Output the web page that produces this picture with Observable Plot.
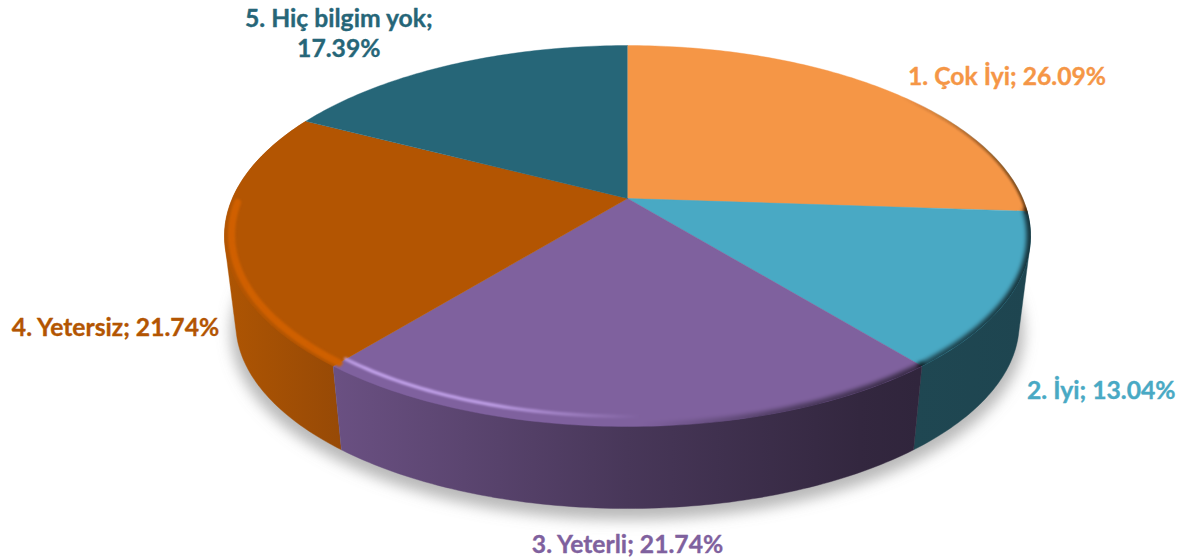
<!DOCTYPE html>
<html><head><meta charset="utf-8">
<style>html,body{margin:0;padding:0;background:#fff}svg{display:block}</style>
<script src="https://cdn.jsdelivr.net/npm/d3@7"></script>
<script src="https://cdn.jsdelivr.net/npm/@observablehq/plot@0.6"></script>
</head><body><div id="c"></div>
<script>
const categories = ["1. Çok İyi", "2. İyi", "3. Yeterli", "4. Yetersiz", "5. Hiç bilgim yok"];
const values = [26.09, 13.04, 21.74, 21.74, 17.39];
const colors = ["#F59646", "#49A9C4", "#7F619E", "#B35502", "#266678"];

// layout
const W = 1180, H = 560, cx = 627, cy = 198, Ax = 395.1, Ay = 183.1, k = 0.197;
const depth = 88.4 / Ay, bottomScale = 0.972;
const labelOffsets = [[125, -13], [88, 98], [0, 117], [-109, 89], [-113, -32]];
const labelBreak = [false, false, false, false, true];

const pie = d3.pie().sort(null).value(d => d)(values);

function project(a, r = 1, bottom = false) {
  const X = r * Math.sin(a), Y = r * Math.cos(a), w = 1 + k * Y;
  const s = bottom ? bottomScale : 1;
  return {x: s * X / w, y: s * Y / w - (bottom ? depth : 0)};
}
function arc(a0, a1, r = 1, bottom = false) {
  const n = Math.max(2, Math.ceil(Math.abs(a1 - a0) * 60));
  return d3.range(n + 1).map(i => project(a0 + (a1 - a0) * i / n, r, bottom));
}
const wedge = s => [{x: 0, y: 0}, ...arc(s.startAngle, s.endAngle)];
// the side wall: hull of the top and bottom rims (its upper part lies under the top face)
const wall = s => d3.polygonHull(
  [...arc(s.startAngle, s.endAngle), ...arc(s.startAngle, s.endAngle, 1, true)].map(p => [p.x, p.y])
).map(([x, y]) => ({x, y}));
const fullDisc = (sc) => arc(0, 2 * Math.PI, sc, true);

const effect = (filterId, clipped) => ({render: (i, s, v, d, c, next) => {
  const g = next(i, s, v, d, c);
  g.setAttribute("filter", `url(#${filterId})`);
  if (!clipped) return g;
  const outer = document.createElementNS("http://www.w3.org/2000/svg", "g");
  outer.setAttribute("clip-path", "url(#topClip)");
  outer.appendChild(g);
  return outer;
}});

function stops(id, x1, x2, list) {
  return `<linearGradient id="${id}" gradientUnits="userSpaceOnUse" x1="${x1}" x2="${x2}" y1="0" y2="0">` +
    list.map(([o, c, op = 1]) => `<stop offset="${o}" stop-color="${c}" stop-opacity="${op}"/>`).join("") +
    `</linearGradient>`;
}
const defsMark = () => {
  const g = document.createElementNS("http://www.w3.org/2000/svg", "g");
  const region = `filterUnits="userSpaceOnUse" x="0" y="0" width="${W}" height="${H}"`;
  const topPath = arc(0, 2 * Math.PI, 1.002).map(p => `${cx + Ax * p.x},${cy - Ay * p.y}`).join(" ");
  g.innerHTML = `<defs>
    <clipPath id="topClip"><polygon points="${topPath}"/></clipPath>
    <filter id="b1" ${region}><feGaussianBlur stdDeviation="1.2"/></filter>
    <filter id="b2" ${region}><feGaussianBlur stdDeviation="2.2"/></filter>
    <filter id="b6" ${region}><feGaussianBlur stdDeviation="7"/></filter>
    ${stops("sideOrange", 224, 345, [[0, "#AE5503"], [1, "#964906"]])}
    ${stops("sidePurple", 335, 918, [[0, "#6A5082"], [0.5, "#483759"], [0.9, "#33273F"], [1, "#30253C"]])}
    ${stops("sideBlue", 912, 1030, [[0, "#1F4752"], [1, "#1E4550"]])}
    ${stops("hiPurple", 335, 640, [[0, "#C5A5EE", 0.7], [0.1, "#C5A5EE", 0.95], [0.5, "#C5A5EE", 0.9], [1, "#C5A5EE", 0]])}
    ${stops("hiOrange", 224, 345, [[0, "#D06005", 1], [1, "#D06005", 0.95]])}
    ${stops("dark", 640, 1030, [[0, "#000", 0], [0.4, "#000", 0.4], [0.8, "#000", 0.6], [1, "#000", 0.7]])}
    ${stops("darkTop", 900, 1030, [[0, "#3a1f00", 0], [1, "#3a1f00", 0.7]])}
  </defs>`;
  return g;
};

const sideFill = {1: "url(#sideBlue)", 2: "url(#sidePurple)", 3: "url(#sideOrange)"};
const poly = (data, fill) => Plot.line(data, {x: "x", y: "y", fill, stroke: fill, strokeWidth: 0.4, curve: "linear"});
const stroke = (data, color, width, id) => Plot.line(data, {x: "x", y: "y", stroke: color, strokeWidth: width, curve: "linear", fill: "none", ...effect(id, true)});

const marks = [
  defsMark,
  // soft shadow under the pie
  Plot.line(fullDisc(1.012).map(p => ({x: p.x, y: p.y - 8 / Ay})), {x: "x", y: "y", fill: "#8a8a8a", fillOpacity: 0.6, stroke: "none", ...effect("b6", false)}),
  // visible side walls
  ...[3, 1, 2].map(i => poly(wall(pie[i]), sideFill[i])),
  // top faces
  ...pie.map((s, i) => poly(wedge(s), colors[i])),
  // bevel: light on the left front, shade on the right
  stroke(arc(pie[3].startAngle, pie[3].endAngle - 0.5, 0.983), "url(#hiOrange)", 7, "b1"),
  stroke(arc(pie[2].startAngle, pie[2].endAngle, 0.964), "url(#hiPurple)", 3.4, "b1"),
  stroke(arc(pie[2].startAngle, pie[2].endAngle, 1), "url(#dark)", 8, "b2"),
  stroke(arc(pie[1].startAngle, pie[1].endAngle, 1), "url(#dark)", 8, "b2"),
  stroke(arc(pie[0].startAngle + 0.9, pie[0].endAngle, 1), "url(#darkTop)", 4, "b1"),
  // labels
  ...pie.map((s, i) => {
    const p = project((s.startAngle + s.endAngle) / 2);
    const pct = values[i].toFixed(2) + "%";
    return Plot.text([{...p, t: categories[i] + ";" + (labelBreak[i] ? "\n" : " ") + pct}], {
      x: "x", y: "y", text: "t", dx: labelOffsets[i][0], dy: labelOffsets[i][1],
      fill: colors[i], stroke: colors[i], strokeWidth: 0.35,
      fontFamily: "Lato", fontWeight: 700, fontSize: 24.7, lineHeight: 1.2
    });
  })
];

const plot = Plot.plot({
  width: W, height: H, margin: 0,
  x: {domain: [-cx / Ax, (W - cx) / Ax], range: [0, W], axis: null},
  y: {domain: [cy / Ay, -(H - cy) / Ay], range: [0, H], axis: null},
  style: {background: "#fff"},
  marks
});
document.getElementById("c").appendChild(plot);
</script></body></html>
